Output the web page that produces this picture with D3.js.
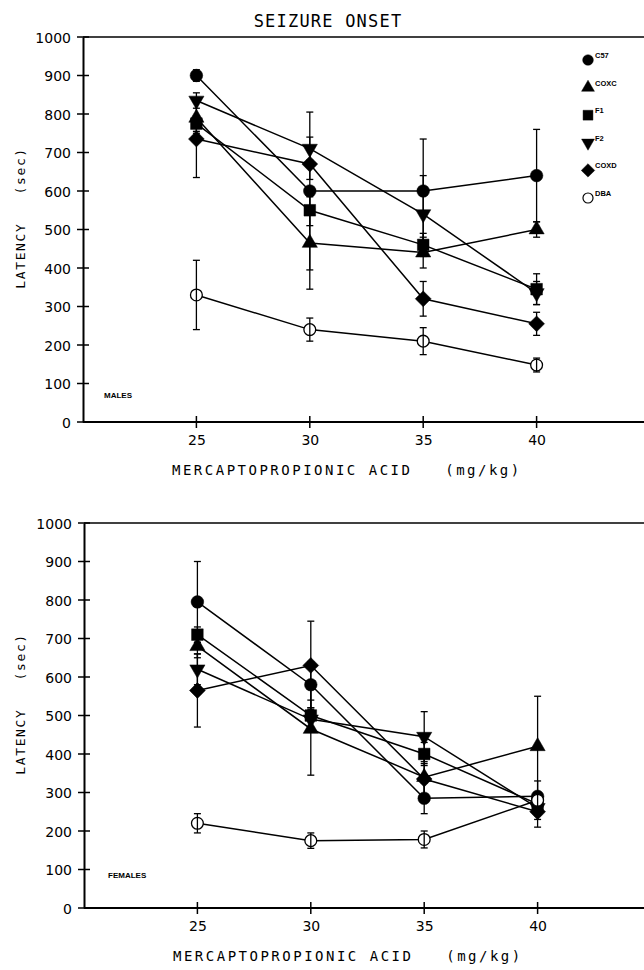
<!DOCTYPE html>
<html>
<head>
<meta charset="utf-8">
<script src="https://cdn.jsdelivr.net/npm/d3@7"></script>
<style>
  body { margin: 0; background: #fff; }
  svg { display: block; }
  .plot { font-family: "DejaVu Sans Mono", monospace; }
</style>
</head>
<body>
<div id="chart"></div>
<script>
// doses of mercaptopropionic acid (mg/kg)
const doses = [25, 30, 35, 40];
const strains = ["C57", "COXC", "F1", "F2", "COXD", "DBA"];
const xTicks = [25, 30, 35, 40];
const yTicks = [0, 100, 200, 300, 400, 500, 600, 700, 800, 900, 1000];

// males: mean latency (sec), one row per strain
const malesMean = [
	[900, 600, 600, 640],
	[790, 465, 440, 500],
	[775, 550, 460, 345],
	[835, 710, 540, 335],
	[735, 670, 320, 255],
	[330, 240, 210, 148]
];
const malesErr = [
	[15, 205, 135, 120],
	[40, 120, 40, 20],
	[20, 40, 30, 40],
	[20, 30, 100, 30],
	[100, 40, 45, 30],
	[90, 30, 35, 18]
];

// females
const femalesMean = [
	[795, 580, 285, 290],
	[680, 465, 340, 420],
	[710, 500, 400, 270],
	[620, 490, 445, 260],
	[565, 630, 335, 250],
	[220, 175, 178, 280]
];
const femalesErr = [
	[105, 60, 40, 40],
	[30, 120, 60, 130],
	[20, 40, 30, 30],
	[40, 30, 65, 30],
	[95, 115, 40, 40],
	[25, 20, 22, 20]
];

const width = 644, height = 970;

const svg = d3.select("#chart")
	.append("svg")
	.attr("class", "plot")
	.attr("width", width)
	.attr("height", height);

svg.append("text")
	.attr("x", 328)
	.attr("y", 27)
	.attr("text-anchor", "middle")
	.style("font-size", "17px")
	.style("letter-spacing", "1.2px")
	.text("SEIZURE ONSET");

// marker for each strain
function marker(i) {
	if (i == 0) return { path: d3.symbol().type(d3.symbolCircle).size(125)(), rot: 0, fill: "#000" };
	if (i == 1) return { path: d3.symbol().type(d3.symbolTriangle).size(100)(), rot: 0, fill: "#000" };
	if (i == 2) return { path: d3.symbol().type(d3.symbolSquare).size(135)(), rot: 0, fill: "#000" };
	if (i == 3) return { path: d3.symbol().type(d3.symbolTriangle).size(100)(), rot: 180, fill: "#000" };
	if (i == 4) return { path: d3.symbol().type(d3.symbolSquare).size(125)(), rot: 45, fill: "#000" };
	return { path: d3.symbol().type(d3.symbolCircle).size(110)(), rot: 0, fill: "#fff" };
}

function drawPanel(cfg) {
	let x = d3.scaleLinear().domain([20, 45]).range([cfg.left, cfg.left + 567]);
	let y = d3.scaleLinear().domain([0, 1000]).range([cfg.bottom, cfg.bottom - 385]);

	let g = svg.append("g");

	// frame: top line
	g.append("line")
		.attr("x1", x(20)).attr("x2", width)
		.attr("y1", y(1000)).attr("y2", y(1000))
		.attr("stroke", "#000").attr("stroke-width", 1.6);

	let yAxis = d3.axisLeft(y).tickValues(yTicks).tickFormat(d3.format("d")).tickSize(0).tickPadding(12);
	let yg = g.append("g").attr("transform", "translate(" + x(20) + ",0)").call(yAxis);
	yg.select(".domain").attr("stroke-width", 2);
	yg.selectAll("text")
		.style("font-family", "DejaVu Sans, sans-serif")
		.style("font-size", "14px")
		.attr("dy", "0.36em");
	// cross ticks
	g.selectAll(".ytick").data(yTicks).join("line")
		.attr("x1", x(20) - 6).attr("x2", x(20) + 6)
		.attr("y1", d => y(d)).attr("y2", d => y(d))
		.attr("stroke", "#000").attr("stroke-width", 1.5);

	let xAxis = d3.axisBottom(x).tickValues(xTicks).tickSize(0).tickPadding(13);
	let xg = g.append("g").attr("transform", "translate(0," + y(0) + ")").call(xAxis);
	xg.select(".domain").attr("stroke-width", 2).attr("d", "M" + x(20) + ",0H" + width);
	xg.selectAll("text")
		.style("font-family", "DejaVu Sans, sans-serif")
		.style("font-size", "14px");
	g.selectAll(".xtick").data(xTicks).join("line")
		.attr("x1", d => x(d)).attr("x2", d => x(d))
		.attr("y1", y(0) - 6).attr("y2", y(0) + 6)
		.attr("stroke", "#000").attr("stroke-width", 1.5);

	// axis titles
	g.append("text")
		.attr("x", cfg.left + 89)
		.attr("y", y(0) + 53)
		.style("font-size", "14px")
		.style("letter-spacing", "2.5px")
		.style("white-space", "pre")
		.text("MERCAPTOPROPIONIC ACID   (mg/kg)");

	g.append("text")
		.attr("transform", "translate(25," + y(530) + ") rotate(-90)")
		.attr("text-anchor", "middle")
		.style("font-size", "13px")
		.style("letter-spacing", "1.6px")
		.style("white-space", "pre")
		.text("LATENCY   (sec)");

	g.append("text")
		.attr("x", cfg.left + cfg.tagDx)
		.attr("y", y(cfg.tagY))
		.style("font-family", "Liberation Sans, sans-serif")
		.style("font-weight", "bold")
		.style("font-size", "8px")
		.text(cfg.tag);

	let line = d3.line().x((d, i) => x(doses[i])).y(d => y(d));

	cfg.mean.forEach(function (row) {
		g.append("path")
			.attr("d", line(row))
			.attr("fill", "none")
			.attr("stroke", "#000")
			.attr("stroke-width", 1.5);
	});

	function errorBars(si) {
		let row = cfg.mean[si];
		row.forEach(function (v, i) {
			let e = cfg.err[si][i];
			let cx = x(doses[i]);
			g.append("line")
				.attr("x1", cx).attr("x2", cx)
				.attr("y1", y(v - e)).attr("y2", y(v + e))
				.attr("stroke", "#000").attr("stroke-width", 1.3);
			[v - e, v + e].forEach(function (c) {
				g.append("line")
					.attr("x1", cx - 3.5).attr("x2", cx + 3.5)
					.attr("y1", y(c)).attr("y2", y(c))
					.attr("stroke", "#000").attr("stroke-width", 1.3);
			});
		});
	}

	for (let s = 0; s < 5; s++) errorBars(s);

	cfg.mean.forEach(function (row, si) {
		let m = marker(si);
		row.forEach(function (v, i) {
			g.append("path")
				.attr("d", m.path)
				.attr("transform", "translate(" + x(doses[i]) + "," + y(v) + ") rotate(" + m.rot + ")")
				.attr("fill", m.fill)
				.attr("stroke", "#000")
				.attr("stroke-width", si == 5 ? 1.3 : 0.5);
		});
	});
	errorBars(5);

	if (cfg.legend) {
		strains.forEach(function (name, i) {
			let m = marker(i);
			let ly = 60 + i * 27.6;
			g.append("path")
				.attr("d", m.path)
				.attr("transform", "translate(588," + ly + ") rotate(" + m.rot + ") scale(0.85)")
				.attr("fill", m.fill)
				.attr("stroke", "#000")
				.attr("stroke-width", i == 5 ? 1.4 : 0.5);
			g.append("text")
				.attr("x", 595)
				.attr("y", ly - 2)
				.style("font-family", "Liberation Sans, sans-serif")
				.style("font-weight", "bold")
				.style("font-size", "7.5px")
				.text(name);
		});
	}
}

drawPanel({ left: 83, bottom: 422, mean: malesMean, err: malesErr, tag: "MALES", tagDx: 21, tagY: 62, legend: true });
drawPanel({ left: 84, bottom: 908, mean: femalesMean, err: femalesErr, tag: "FEMALES", tagDx: 24, tagY: 78, legend: false });
</script>
</body>
</html>
